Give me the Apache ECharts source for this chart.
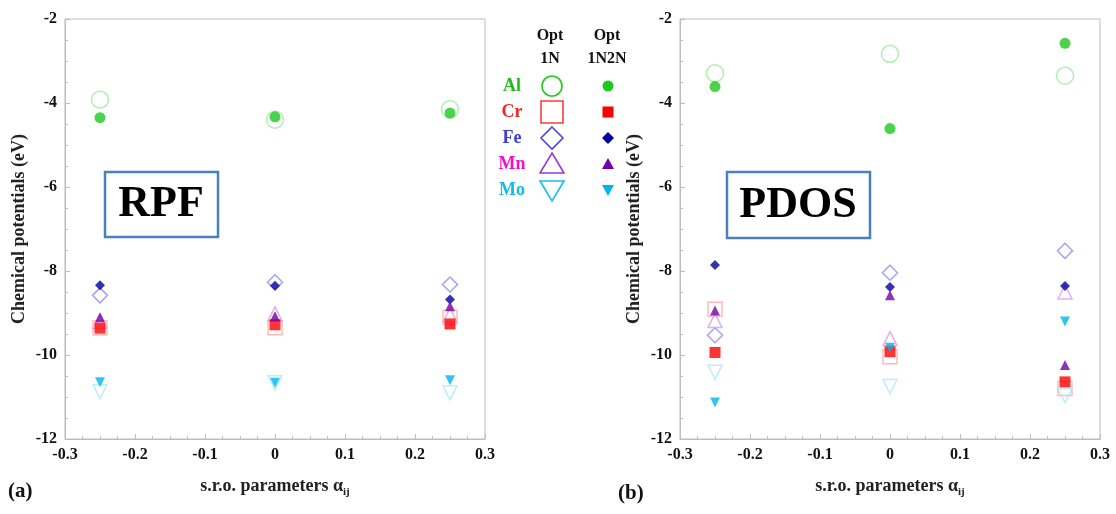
<!DOCTYPE html>
<html lang="en">
<head>
<meta charset="UTF-8">
<title>Chemical potentials</title>
<style>
  html, body { margin: 0; padding: 0; background: #fff; }
  #main { width: 1116px; height: 514px; }
</style>
</head>
<body>
<div id="main"></div>
<script src="https://cdn.jsdelivr.net/npm/echarts@6/dist/echarts.min.js"></script>
<script>
// s.r.o. parameter values
var xVals = [-0.25, 0, 0.25];
var elements = ['Al', 'Cr', 'Fe', 'Mn', 'Mo'];
var yTicks = [-12, -10, -8, -6, -4, -2];
var xTicks = [-0.3, -0.2, -0.1, 0, 0.1, 0.2, 0.3];

// (a) RPF, Opt 1N (open) / Opt 1N2N (filled)
var rpfAl1N = [-3.92, -4.4, -4.15];
var rpfCr1N = [-9.35, -9.35, -9.1];
var rpfFe1N = [-8.58, -8.27, -8.32];
var rpfMn1N = [-9.2, -9.02, -9.05];
var rpfMo1N = [-10.87, -10.66, -10.9];
var rpfAl2N = [-4.35, -4.33, -4.24];
var rpfCr2N = [-9.36, -9.28, -9.26];
var rpfFe2N = [-8.34, -8.35, -8.68];
var rpfMn2N = [-9.1, -9.08, -8.84];
var rpfMo2N = [-10.65, -10.66, -10.6];

// (b) PDOS
var pdosAl1N = [-3.29, -2.83, -3.35];
var pdosCr1N = [-8.91, -10.04, -10.8];
var pdosFe1N = [-9.53, -8.04, -7.52];
var pdosMn1N = [-9.18, -9.61, -8.5];
var pdosMo1N = [-10.41, -10.75, -10.97];
var pdosAl2N = [-3.61, -4.61, -2.58];
var pdosCr2N = [-9.94, -9.92, -10.64];
var pdosFe2N = [-7.86, -8.38, -8.36];
var pdosMn2N = [-8.94, -8.58, -10.24];
var pdosMo2N = [-11.13, -9.83, -9.2];

var rpfOpen = [rpfAl1N, rpfCr1N, rpfFe1N, rpfMn1N, rpfMo1N];
var rpfFill = [rpfAl2N, rpfCr2N, rpfFe2N, rpfMn2N, rpfMo2N];
var pdosOpen = [pdosAl1N, pdosCr1N, pdosFe1N, pdosMn1N, pdosMo1N];
var pdosFill = [pdosAl2N, pdosCr2N, pdosFe2N, pdosMn2N, pdosMo2N];

var symbols = ['circle', 'rect', 'diamond', 'triangle', 'triangle'];
var rotations = [0, 0, 0, 0, 180];
var fillColors = ['#1ec81e', '#ff0000', '#00009c', '#7400aa', '#00b4ee'];
var openColors = ['#9fe89f', '#ffa8a8', '#8c8cf0', '#d99be8', '#a8e8fb'];
var legendOpen = ['#22cc22', '#ff3a3a', '#4a4ad8', '#9a3ad0', '#14c0f0'];
var labelColors = ['#22bb22', '#ff2222', '#3c3cd8', '#ee11cc', '#11bbee'];
var openSize = [17, 14, 15, 14, 14];
var fillSize = [11, 11, 10, 10, 10];

var serif = '"Liberation Serif", "DejaVu Serif", serif';
var frame = '#bdbdbd';

function pts(ys) {
  return xVals.map(function (x, i) { return [x, ys[i]]; });
}

var series = [];
function addPanel(idx, opens, fills) {
  for (var i = 0; i < elements.length; i++) {
    series.push({
      name: elements[i] + ' 1N', type: 'scatter', xAxisIndex: idx, yAxisIndex: idx,
      symbol: symbols[i], symbolRotate: rotations[i], symbolSize: openSize[i],
      itemStyle: { color: 'rgba(255,255,255,0)', borderColor: openColors[i], borderWidth: 1.5 },
      data: pts(opens[i]), z: 2
    });
  }
  for (var j = 0; j < elements.length; j++) {
    series.push({
      name: elements[j] + ' 1N2N', type: 'scatter', xAxisIndex: idx, yAxisIndex: idx,
      symbol: symbols[j], symbolRotate: rotations[j], symbolSize: fillSize[j],
      itemStyle: { color: fillColors[j] },
      data: pts(fills[j]), z: 3
    });
  }
}
addPanel(0, rpfOpen, rpfFill);
addPanel(1, pdosOpen, pdosFill);

function xAxis(gi) {
  return {
    type: 'value', gridIndex: gi, min: -0.3, max: 0.3, interval: 0.1,
    name: '{t|s.r.o. parameters α}{s|ij}', nameLocation: 'middle', nameGap: 36,
    nameTextStyle: { rich: {
      t: { fontFamily: serif, fontWeight: 'bold', fontSize: 18, color: '#222' },
      s: { fontFamily: serif, fontWeight: 'bold', fontSize: 11, color: '#222', verticalAlign: 'bottom', padding: [12, 0, 0, 0] }
    } },
    axisLine: { onZero: false, lineStyle: { color: frame } },
    axisTick: { inside: true, length: 5, lineStyle: { color: frame } },
    minorTick: { show: true, splitNumber: 4, length: 3, lineStyle: { color: frame } },
    splitLine: { show: false },
    axisLabel: {
      fontFamily: serif, fontWeight: 'bold', fontSize: 16, color: '#111', margin: 8,
      formatter: function (v) { return Math.abs(v) < 1e-9 ? '0' : String(+v.toFixed(1)); }
    }
  };
}
function yAxis(gi) {
  return {
    type: 'value', gridIndex: gi, min: -12, max: -2, interval: 2,
    name: 'Chemical potentials (eV)', nameLocation: 'middle', nameGap: 37,
    nameTextStyle: { fontFamily: serif, fontWeight: 'bold', fontSize: 18, color: '#222' },
    axisLine: { onZero: false, lineStyle: { color: frame } },
    axisTick: { inside: true, length: 5, lineStyle: { color: frame } },
    minorTick: { show: true, splitNumber: 4, length: 3, lineStyle: { color: frame } },
    splitLine: { show: false },
    axisLabel: { fontFamily: serif, fontWeight: 'bold', fontSize: 16, color: '#111', margin: 8 }
  };
}

// legend block in the middle, drawn as plain graphics
var graphics = [];
var rowY = [86, 112, 138, 164, 190];
var hdr = { fontFamily: serif, fontWeight: 'bold', fontSize: 16, fill: '#111', textAlign: 'center', textVerticalAlign: 'middle' };
graphics.push({ type: 'text', x: 550, y: 36, style: Object.assign({ text: 'Opt' }, hdr) });
graphics.push({ type: 'text', x: 550, y: 59, style: Object.assign({ text: '1N' }, hdr) });
graphics.push({ type: 'text', x: 607, y: 36, style: Object.assign({ text: 'Opt' }, hdr) });
graphics.push({ type: 'text', x: 607, y: 59, style: Object.assign({ text: '1N2N' }, hdr) });

for (var k = 0; k < elements.length; k++) {
  var cy = rowY[k];
  graphics.push({ type: 'text', x: 512, y: cy, style: { text: elements[k], fontFamily: serif, fontWeight: 'bold', fontSize: 18, fill: labelColors[k], textAlign: 'center', textVerticalAlign: 'middle' } });
  var oStyle = { fill: 'none', stroke: legendOpen[k], lineWidth: 1.6 };
  var fStyle = { fill: fillColors[k] };
  var ox = 552, fx = 608;
  if (k === 0) {
    graphics.push({ type: 'circle', shape: { cx: ox, cy: cy, r: 10 }, style: oStyle });
    graphics.push({ type: 'circle', shape: { cx: fx, cy: cy, r: 5.5 }, style: fStyle });
  } else if (k === 1) {
    graphics.push({ type: 'rect', shape: { x: ox - 11, y: cy - 11, width: 22, height: 22 }, style: oStyle });
    graphics.push({ type: 'rect', shape: { x: fx - 5.5, y: cy - 5.5, width: 11, height: 11 }, style: fStyle });
  } else if (k === 2) {
    graphics.push({ type: 'polygon', shape: { points: [[ox, cy - 11], [ox + 11, cy], [ox, cy + 11], [ox - 11, cy]] }, style: oStyle });
    graphics.push({ type: 'polygon', shape: { points: [[fx, cy - 6], [fx + 6, cy], [fx, cy + 6], [fx - 6, cy]] }, style: fStyle });
  } else if (k === 3) {
    graphics.push({ type: 'polygon', shape: { points: [[ox, cy - 11], [ox + 12, cy + 9], [ox - 12, cy + 9]] }, style: oStyle });
    graphics.push({ type: 'polygon', shape: { points: [[fx, cy - 6], [fx + 6, cy + 5], [fx - 6, cy + 5]] }, style: fStyle });
  } else {
    graphics.push({ type: 'polygon', shape: { points: [[ox - 12, cy - 9], [ox + 12, cy - 9], [ox, cy + 11]] }, style: oStyle });
    graphics.push({ type: 'polygon', shape: { points: [[fx - 6, cy - 5], [fx + 6, cy - 5], [fx, cy + 6]] }, style: fStyle });
  }
}

// method boxes and panel letters
graphics.push({ type: 'rect', shape: { x: 105, y: 172, width: 113, height: 65 }, style: { fill: '#fff', stroke: '#4a7fc0', lineWidth: 2.5 }, z: 10 });
graphics.push({ type: 'text', x: 161, y: 205, z: 11, style: { text: 'RPF', fontFamily: serif, fontWeight: 'bold', fontSize: 44, fill: '#000', textAlign: 'center', textVerticalAlign: 'middle' } });
graphics.push({ type: 'rect', shape: { x: 727, y: 172, width: 143, height: 66 }, style: { fill: '#fff', stroke: '#4a7fc0', lineWidth: 2.5 }, z: 10 });
graphics.push({ type: 'text', x: 798, y: 206, z: 11, style: { text: 'PDOS', fontFamily: serif, fontWeight: 'bold', fontSize: 44, fill: '#000', textAlign: 'center', textVerticalAlign: 'middle' } });
graphics.push({ type: 'text', x: 8, y: 492, style: { text: '(a)', fontFamily: serif, fontWeight: 'bold', fontSize: 21, fill: '#111', textVerticalAlign: 'middle' } });
graphics.push({ type: 'text', x: 618, y: 494, style: { text: '(b)', fontFamily: serif, fontWeight: 'bold', fontSize: 21, fill: '#111', textVerticalAlign: 'middle' } });

var option = {
  backgroundColor: '#fff',
  animation: false,
  grid: [
    { left: 65, top: 19, width: 420, height: 420, show: true, borderColor: frame, borderWidth: 1 },
    { left: 680, top: 19, width: 420, height: 420, show: true, borderColor: frame, borderWidth: 1 }
  ],
  xAxis: [xAxis(0), xAxis(1)],
  yAxis: [yAxis(0), yAxis(1)],
  series: series,
  graphic: graphics
};

var myChart = echarts.init(document.getElementById('main'));
myChart.setOption(option);
</script>
</body>
</html>
